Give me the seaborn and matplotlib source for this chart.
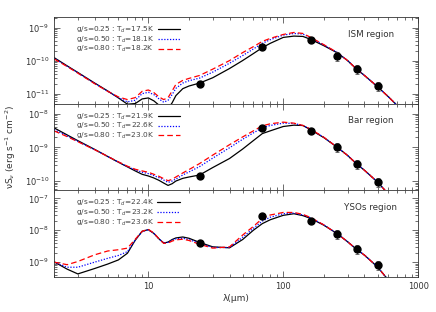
import numpy as np
import pandas as pd
import seaborn as sns
import matplotlib.pyplot as plt
from matplotlib.ticker import LogLocator, NullFormatter, FixedLocator, FuncFormatter

# wavelength grid (micron) of the model curves
wave = [2, 2.5, 3, 4, 5, 6, 7, 8, 9, 10, 11, 12, 13, 14, 15, 16, 18, 20, 24, 30,
        40, 50, 60, 70, 80, 100, 120, 140, 160, 200, 250, 300, 350, 400, 500, 600, 700, 800]

# log10(nu S_nu)
ism_025 = [-9.91, -10.16, -10.36, -10.68, -10.92, -11.13, -11.32, -11.30, -11.16, -11.13,
           -11.22, -11.35, -11.50, -11.45, -11.28, -11.06, -10.85, -10.77, -10.68, -10.52,
           -10.24, -10.00, -9.79, -9.61, -9.48, -9.30, -9.26, -9.27, -9.36, -9.55,
           -9.76, -10.00, -10.26, -10.45, -10.79, -11.09, -11.36, -11.62]
ism_050 = [-9.93, -10.17, -10.37, -10.69, -10.93, -11.12, -11.25, -11.20, -11.00, -10.96,
           -11.03, -11.16, -11.26, -11.20, -11.03, -10.84, -10.68, -10.61, -10.53, -10.35,
           -10.08, -9.85, -9.65, -9.48, -9.37, -9.23, -9.18, -9.20, -9.31, -9.53,
           -9.75, -10.00, -10.26, -10.45, -10.79, -11.09, -11.36, -11.62]
ism_080 = [-9.95, -10.18, -10.38, -10.70, -10.93, -11.10, -11.18, -11.12, -10.93, -10.89,
           -10.97, -11.10, -11.18, -11.12, -10.92, -10.72, -10.60, -10.54, -10.45, -10.26,
           -10.00, -9.76, -9.58, -9.42, -9.33, -9.21, -9.15, -9.18, -9.30, -9.52,
           -9.75, -10.00, -10.26, -10.45, -10.79, -11.09, -11.36, -11.62]

bar_025 = [-8.42, -8.63, -8.80, -9.06, -9.27, -9.44, -9.58, -9.70, -9.80, -9.85,
           -9.91, -9.98, -10.06, -10.13, -10.08, -10.00, -9.92, -9.88, -9.82, -9.60,
           -9.33, -9.05, -8.80, -8.59, -8.51, -8.38, -8.34, -8.35, -8.48, -8.71,
           -8.99, -9.24, -9.49, -9.68, -10.03, -10.38, -10.70, -11.00]
bar_050 = [-8.47, -8.66, -8.82, -9.07, -9.27, -9.44, -9.57, -9.67, -9.74, -9.78,
           -9.84, -9.90, -9.97, -10.04, -10.00, -9.94, -9.82, -9.73, -9.57, -9.32,
           -9.01, -8.76, -8.57, -8.42, -8.35, -8.28, -8.29, -8.35, -8.47, -8.70,
           -8.99, -9.24, -9.49, -9.68, -10.03, -10.38, -10.70, -11.00]
bar_080 = [-8.51, -8.68, -8.83, -9.07, -9.27, -9.43, -9.56, -9.65, -9.70, -9.74,
           -9.80, -9.86, -9.93, -9.99, -9.95, -9.88, -9.76, -9.66, -9.48, -9.23,
           -8.92, -8.69, -8.51, -8.36, -8.30, -8.25, -8.28, -8.35, -8.46, -8.70,
           -8.99, -9.24, -9.49, -9.68, -10.03, -10.38, -10.70, -11.00]

yso_025 = [-8.99, -9.22, -9.37, -9.20, -9.06, -8.93, -8.72, -8.31, -8.03, -7.98,
           -8.10, -8.27, -8.40, -8.37, -8.29, -8.24, -8.21, -8.25, -8.38, -8.52,
           -8.55, -8.29, -8.00, -7.79, -7.67, -7.53, -7.48, -7.54, -7.63, -7.84,
           -8.10, -8.36, -8.60, -8.78, -9.15, -9.56, -9.90, -10.20]
yso_050 = [-9.00, -9.16, -9.16, -9.00, -8.88, -8.79, -8.67, -8.30, -8.04, -7.98,
           -8.10, -8.27, -8.40, -8.38, -8.31, -8.27, -8.25, -8.29, -8.41, -8.54,
           -8.54, -8.22, -7.94, -7.71, -7.59, -7.48, -7.46, -7.52, -7.61, -7.83,
           -8.10, -8.36, -8.60, -8.78, -9.15, -9.56, -9.90, -10.20]
yso_080 = [-9.00, -9.08, -8.98, -8.77, -8.65, -8.61, -8.56, -8.28, -8.03, -7.97,
           -8.09, -8.27, -8.41, -8.40, -8.34, -8.30, -8.28, -8.32, -8.44, -8.56,
           -8.52, -8.15, -7.88, -7.63, -7.52, -7.44, -7.44, -7.50, -7.60, -7.83,
           -8.10, -8.36, -8.60, -8.78, -9.15, -9.56, -9.90, -10.20]

# observed photometry
obs_wave = [24, 70, 160, 250, 350, 500]
ism_obs = [2.0e-11, 2.5e-10, 4.3e-10, 1.4e-10, 5.5e-11, 1.7e-11]
bar_obs = [1.4e-10, 3.8e-9, 3.0e-9, 1.05e-9, 3.2e-10, 9.3e-11]
yso_obs = [3.9e-9, 2.8e-8, 1.9e-8, 7.6e-9, 2.6e-9, 8.1e-10]
obs_relerr = [0.1, 0.1, 0.1, 0.3, 0.3, 0.3]

gs_values = ["0.25", "0.50", "0.80"]
ism_td = ["17.5", "18.1", "18.2"]
bar_td = ["21.9", "22.6", "23.0"]
yso_td = ["22.4", "23.2", "23.6"]

# labelled decades of each panel
ism_ticks = [1e-11, 1e-10, 1e-9]
bar_ticks = [1e-10, 1e-9, 1e-8]
yso_ticks = [1e-9, 1e-8, 1e-7]

panels = [
    ("ISM region", [ism_025, ism_050, ism_080], ism_obs, ism_td, ism_ticks, (5e-12, 2.1e-9)),
    ("Bar region", [bar_025, bar_050, bar_080], bar_obs, bar_td, bar_ticks, (5.3e-11, 2e-8)),
    ("YSOs region", [yso_025, yso_050, yso_080], yso_obs, yso_td, yso_ticks, (3.4e-10, 1.8e-7)),
]

sns.set_style("ticks")
plt.rcParams["font.family"] = ["DejaVu Sans"]
plt.rcParams["mathtext.fontset"] = "dejavusans"

colors = ["black", "blue", "red"]
styles = ["-", (0, (1, 1.3)), (0, (4.5, 2.5))]
txt_color = "#444444"

fig, axes = plt.subplots(3, 1, figsize=(4.36, 3.12), dpi=100, sharex=True)
fig.subplots_adjust(left=0.124, right=0.959, top=0.946, bottom=0.112, hspace=0)

for ax, (name, curves, obs, td, yt, ylim) in zip(axes, panels):
    for vals, c, ls, gs, t in zip(curves, colors, styles, gs_values, td):
        df = pd.DataFrame({"wave": wave, "flux": 10 ** np.array(vals)})
        sns.lineplot(data=df, x="wave", y="flux", ax=ax, color=c, linestyle=ls,
                     linewidth=0.9, sort=False, estimator=None,
                     label="g/s=%s : T$_d$=%sK" % (gs, t))
    obs_arr = np.array(obs)
    ax.errorbar(obs_wave, obs_arr, yerr=obs_arr * np.array(obs_relerr), fmt="o",
                color="black", ms=5, ecolor="#555555", elinewidth=0.6, capsize=1.2,
                capthick=0.6, zorder=5)
    ax.set_xscale("log")
    ax.set_yscale("log")
    ax.set_xlim(2, 1000)
    ax.set_ylim(*ylim)
    ax.set_xlabel("")
    ax.set_ylabel("")
    ax.yaxis.set_major_locator(FixedLocator(yt))
    ax.yaxis.set_minor_locator(LogLocator(base=10, subs=np.arange(2, 10), numticks=20))
    ax.yaxis.set_minor_formatter(NullFormatter())
    ax.tick_params(which="both", direction="in", top=True, right=True,
                   labelsize=6, colors="#333333", width=0.5)
    ax.tick_params(which="major", length=4.5)
    ax.tick_params(which="minor", length=2)
    for sp in ax.spines.values():
        sp.set_linewidth(0.6)
        sp.set_color("#333333")
    leg = ax.legend(loc="upper left", bbox_to_anchor=(0.045, 0.97), frameon=False,
                    markerfirst=False, fontsize=5.3, handlelength=3.0,
                    labelspacing=-0.05, handletextpad=0.5, borderpad=0.2)
    for t in leg.get_texts():
        t.set_color(txt_color)
    ax.text(0.87, 0.80, name, transform=ax.transAxes, ha="center", va="center",
            fontsize=6.3, color="#333333")

axes[-1].xaxis.set_major_locator(FixedLocator([10, 100, 1000]))
axes[-1].xaxis.set_major_formatter(FuncFormatter(lambda v, p: "%d" % v))
axes[-1].xaxis.set_minor_formatter(NullFormatter())
axes[-1].set_xlabel("λ(μm)", fontsize=6.5, color="#333333", labelpad=2)
axes[1].set_ylabel("νS$_ν$ (erg s$^{-1}$ cm$^{-2}$)", fontsize=6.5, color="#333333",
                   labelpad=5)

fig.savefig("out.png", dpi=100)
